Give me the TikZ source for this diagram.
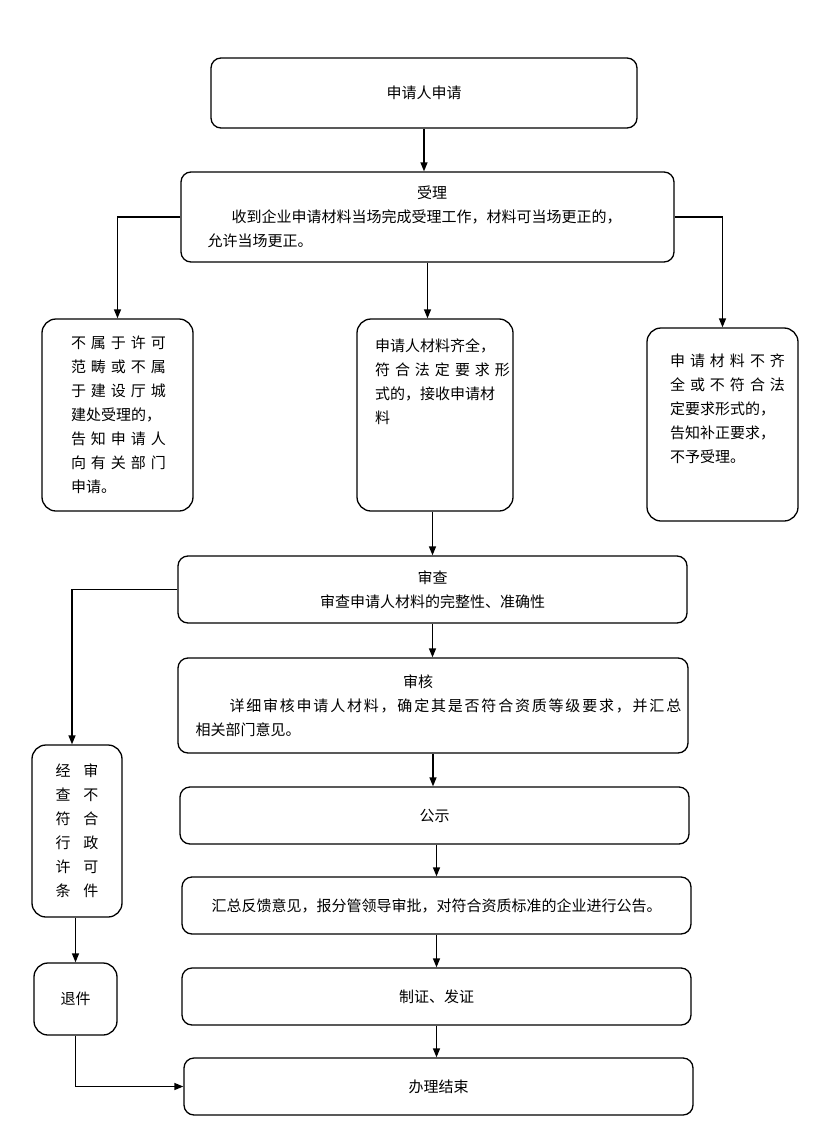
\documentclass[tikz,border=0pt]{standalone}
\usepackage{fontspec}
\newfontfamily\cjk{Noto Sans CJK SC}
\usetikzlibrary{arrows.meta}
\newcommand{\spreadto}[2]{\makebox[#1][s]{#2}}

\begin{document}
\begin{tikzpicture}[x=1pt,y=-1pt,
  box/.style={draw,line width=1.3pt,rounded corners=10pt,inner sep=0pt,
    font=\cjk\fontsize{15}{24}\selectfont},
  tallbox/.style={box,rounded corners=14pt},
  arr/.style={line width=1.3pt,-{Triangle[length=9pt,width=7pt]}}]
  \useasboundingbox (0,0) rectangle (825,1145);
  % main column
  \node[box,minimum width=426pt,minimum height=70pt] (apply) at (424,93) {申请人申请};
  \node[box,minimum width=493pt,minimum height=90pt,text width=440pt,align=left] (accept) at (427.5,217)
    {\makebox[449pt]{受理}\\\hspace*{24pt}收到企业申请材料当场完成受理工作，材料可当场更正的，\\允许当场更正。};
  \node[tallbox,minimum width=151pt,minimum height=192pt,text width=93pt,align=left] (outside) at (117.5,415)
    {\spreadto{93pt}{不 属 于 许 可}\\\spreadto{93pt}{范 畴 或 不 属}\\\spreadto{93pt}{于 建 设 厅 城}\\建处受理的，\\
     \spreadto{93pt}{告 知 申 请 人}\\\spreadto{93pt}{向 有 关 部 门}\\申请。};
  \node[tallbox,minimum width=156pt,minimum height=192pt,text width=120pt,align=left] (complete) at (435,415)
    {申请人材料齐全，\\\spreadto{120pt}{符 合 法 定 要 求 形}\\式的，接收申请材\\料\\[43pt]\mbox{}};
  \node[tallbox,minimum width=151pt,minimum height=193pt,text width=105pt,align=left] (incomplete) at (722.5,424.5)
    {\spreadto{105pt}{申 请 材 料 不 齐}\\\spreadto{105pt}{全 或 不 符 合 法}\\定要求形式的，\\告知补正要求，\\不予受理。\\[8pt]\mbox{}};
  \node[box,minimum width=509pt,minimum height=67pt,align=center] (review) at (432.5,589.5)
    {审查\\审查申请人材料的完整性、准确性};
  \node[box,minimum width=510pt,minimum height=95pt,text width=475pt,align=left] (audit) at (433,705.5)
    {\makebox[445pt]{审核}\\\hspace*{34pt}{\addfontfeature{LetterSpace=12}详细审核申请人材料，确定其是否符合资质等级要求，并汇总}\\相关部门意见。};
  \node[box,minimum width=509pt,minimum height=57pt] (publicity) at (434.5,815.5) {公示};
  \node[box,minimum width=509pt,minimum height=57pt] (summary) at (436.5,905.5)
    {汇总反馈意见，报分管领导审批，对符合资质标准的企业进行公告。};
  \node[box,minimum width=509pt,minimum height=57pt] (issue) at (436.5,996.5) {制证、发证};
  \node[box,minimum width=509pt,minimum height=57pt] (finish) at (438.5,1086.5) {办理结束};
  % rejected branch
  \node[tallbox,minimum width=90pt,minimum height=172pt,align=center] (reject) at (77,831)
    {经\hspace{13pt}审\\查\hspace{13pt}不\\符\hspace{13pt}合\\行\hspace{13pt}政\\许\hspace{13pt}可\\条\hspace{13pt}件};
  \node[tallbox,minimum width=83pt,minimum height=72pt] (returned) at (75.5,999) {退件};
  % connectors
  \draw[arr] (apply.south) -- (apply.south |- accept.north);
  \draw[arr] (accept.west) -| (outside.north);
  \draw[arr] (accept.south) -- (accept.south |- complete.north);
  \draw[arr] (accept.east) -| (incomplete.north);
  \draw[arr] (review.north |- complete.south) -- (review.north);
  \draw[arr] (review.south) -- (review.south |- audit.north);
  \draw[arr] (audit.south) -- (audit.south |- publicity.north);
  \draw[arr] (summary.north |- publicity.south) -- (summary.north);
  \draw[arr] (summary.south) -- (summary.south |- issue.north);
  \draw[arr] (issue.south) -- (issue.south |- finish.north);
  \draw[arr] (review.west) -| ([xshift=-5pt]reject.north);
  \draw[arr] (returned.north |- reject.south) -- (returned.north);
  \draw[arr] (returned.south) |- (finish.west);
\end{tikzpicture}
\end{document}
